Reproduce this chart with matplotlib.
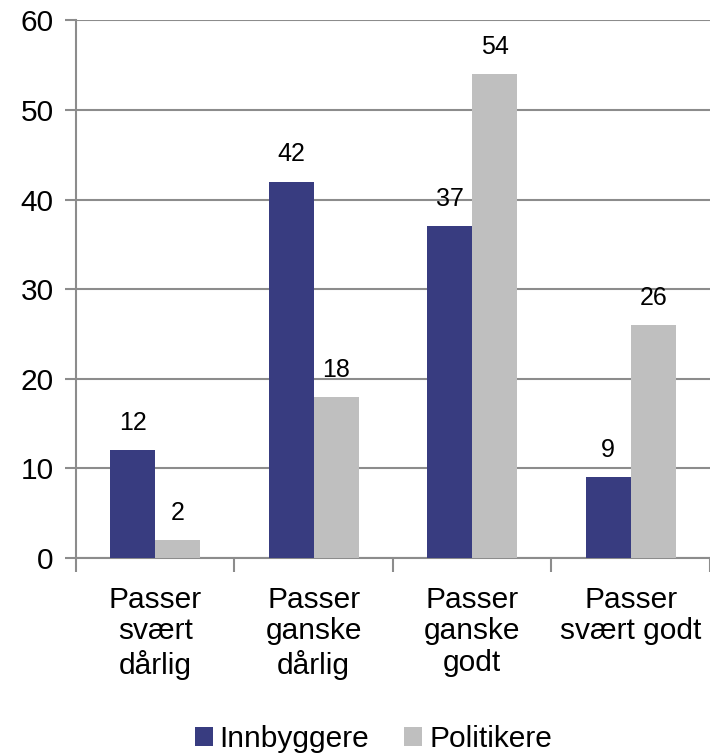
import numpy as np
import matplotlib.pyplot as plt

plt.rcParams['font.family'] = ['Liberation Sans', 'DejaVu Sans']

categories = ['Passer\nsvært\ndårlig', 'Passer\nganske\ndårlig', 'Passer\nganske\ngodt', 'Passer\nsvært godt']
innbyggere = [12, 42, 37, 9]
politikere = [2, 18, 54, 26]
series_names = ['Innbyggere', 'Politikere']

navy = '#383C80'
grey = '#BFBFBF'
gridc = '#8C8C8C'

fig = plt.figure(figsize=(7.1, 7.53), dpi=100)
ax = fig.add_axes([0.107, 0.259, 0.893, 0.714])

x = np.arange(len(categories))
w = 0.284
b1 = ax.bar(x - w / 2, innbyggere, w, color=navy, label=series_names[0], zorder=3)
b2 = ax.bar(x + w / 2, politikere, w, color=grey, label=series_names[1], zorder=3)

for bars in (b1, b2):
    for r in bars:
        ax.annotate(str(int(r.get_height())), (r.get_x() + r.get_width() / 2, r.get_height()),
                    xytext=(0, 14.5), textcoords='offset points', ha='center', va='baseline', fontsize=18)

ax.set_xlim(-0.5, len(categories) - 0.5)
ax.set_ylim(0, 60)
ax.set_yticks(range(0, 61, 10))
ax.yaxis.grid(True, color=gridc, linewidth=1.5, zorder=0)
ax.tick_params(axis='y', labelsize=21.5, length=8, width=1.5, color=gridc, pad=8)

ax.set_xticks(np.arange(len(categories) + 1) - 0.5)
ax.set_xticklabels([])
ax.set_xticks(x, minor=True)
ax.set_xticklabels(categories, minor=True, fontsize=21.5, linespacing=1.17)
ax.tick_params(axis='x', which='major', length=10, width=1.5, color=gridc)
ax.tick_params(axis='x', which='minor', length=0, pad=20)

for s in ['top', 'right']:
    ax.spines[s].set_visible(False)
for s in ['left', 'bottom']:
    ax.spines[s].set_color(gridc)
    ax.spines[s].set_linewidth(1.5)

fig.legend(loc='lower center', bbox_to_anchor=(0.526, 0.0), ncol=2, frameon=False, fontsize=21.5,
           borderpad=0, borderaxespad=0,
           handlelength=0.6, handleheight=0.6, handletextpad=0.23, columnspacing=1.17)

fig.savefig('out.png', dpi=100)
